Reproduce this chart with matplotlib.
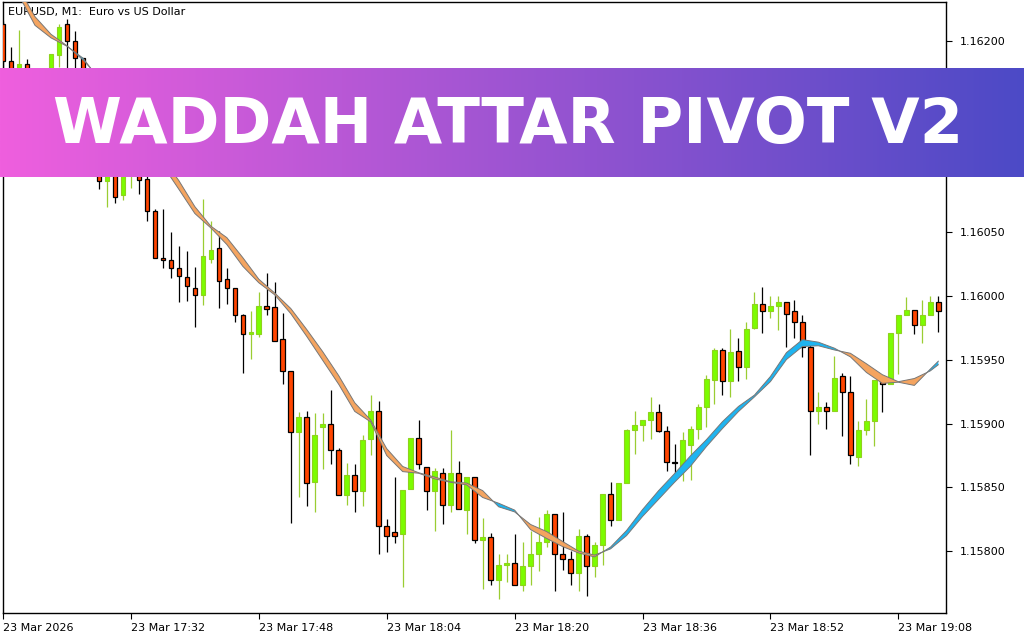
import matplotlib
matplotlib.use("Agg")
import matplotlib.pyplot as plt
import numpy as np

# EURUSD M1 candles, 17:16 .. 19:13
opens = [1.16213, 1.16184, 1.16160, 1.16182, 1.16168, 1.16151, 1.16168, 1.16189, 1.16213, 1.16200,
         1.16187, 1.16152, 1.16118, 1.16090, 1.16107, 1.16079, 1.16099, 1.16118, 1.16092, 1.16067,
         1.16030, 1.16028, 1.16022, 1.16015, 1.16006, 1.16001, 1.16029, 1.16038, 1.16013, 1.16006,
         1.15985, 1.15970, 1.15970, 1.15992, 1.15991, 1.15966, 1.15941, 1.15893, 1.15905, 1.15854,
         1.15897, 1.15900, 1.15879, 1.15844, 1.15860, 1.15847, 1.15888, 1.15910, 1.15820, 1.15815,
         1.15813, 1.15849, 1.15889, 1.15866, 1.15847, 1.15861, 1.15836, 1.15861, 1.15832, 1.15858,
         1.15809, 1.15811, 1.15777, 1.15789, 1.15791, 1.15773, 1.15788, 1.15798, 1.15807, 1.15829,
         1.15798, 1.15794, 1.15783, 1.15812, 1.15788, 1.15805, 1.15845, 1.15824, 1.15853, 1.15895,
         1.15899, 1.15903, 1.15909, 1.15894, 1.15870, 1.15866, 1.15883, 1.15896, 1.15913, 1.15934,
         1.15958, 1.15933, 1.15957, 1.15944, 1.15975, 1.15994, 1.15988, 1.15992, 1.15995, 1.15988,
         1.15980, 1.15960, 1.15910, 1.15913, 1.15910, 1.15937, 1.15925, 1.15874, 1.15895, 1.15902,
         1.15934, 1.15931, 1.15971, 1.15985, 1.15989, 1.15977, 1.15985, 1.15995]
highs = [1.16216, 1.16195, 1.16209, 1.16186, 1.16173, 1.16176, 1.16190, 1.16213, 1.16217, 1.16208,
         1.16187, 1.16157, 1.16122, 1.16115, 1.16111, 1.16107, 1.16129, 1.16124, 1.16099, 1.16068,
         1.16068, 1.16050, 1.16039, 1.16035, 1.16023, 1.16076, 1.16059, 1.16051, 1.16022, 1.16006,
         1.15986, 1.15988, 1.16003, 1.16018, 1.16011, 1.15987, 1.15941, 1.15909, 1.15910, 1.15908,
         1.15908, 1.15926, 1.15881, 1.15869, 1.15868, 1.15891, 1.15922, 1.15918, 1.15825, 1.15858,
         1.15848, 1.15889, 1.15903, 1.15866, 1.15865, 1.15865, 1.15895, 1.15871, 1.15858, 1.15858,
         1.15826, 1.15814, 1.15798, 1.15798, 1.15813, 1.15807, 1.15816, 1.15827, 1.15832, 1.15829,
         1.15831, 1.15800, 1.15817, 1.15813, 1.15807, 1.15845, 1.15854, 1.15853, 1.15896, 1.15910,
         1.15903, 1.15921, 1.15915, 1.15898, 1.15884, 1.15893, 1.15898, 1.15915, 1.15938, 1.15959,
         1.15959, 1.15974, 1.15967, 1.15980, 1.16003, 1.16007, 1.16000, 1.16000, 1.15995, 1.15997,
         1.15985, 1.15962, 1.15925, 1.15917, 1.15953, 1.15940, 1.15937, 1.15902, 1.15919, 1.15934,
         1.15938, 1.15971, 1.15985, 1.15999, 1.15989, 1.15997, 1.16000, 1.16000]
lows = [1.16177, 1.16157, 1.16154, 1.16160, 1.16149, 1.16146, 1.16162, 1.16180, 1.16173, 1.16168,
        1.16146, 1.16122, 1.16084, 1.16070, 1.16073, 1.16075, 1.16085, 1.16080, 1.16059, 1.16030,
        1.16022, 1.16014, 1.15995, 1.15996, 1.15976, 1.15993, 1.16026, 1.15991, 1.15994, 1.15980,
        1.15940, 1.15951, 1.15968, 1.15985, 1.15965, 1.15931, 1.15822, 1.15842, 1.15835, 1.15831,
        1.15864, 1.15868, 1.15844, 1.15836, 1.15831, 1.15835, 1.15875, 1.15798, 1.15799, 1.15806,
        1.15772, 1.15849, 1.15864, 1.15832, 1.15816, 1.15821, 1.15831, 1.15833, 1.15813, 1.15806,
        1.15770, 1.15773, 1.15762, 1.15776, 1.15773, 1.15769, 1.15773, 1.15784, 1.15803, 1.15769,
        1.15785, 1.15773, 1.15769, 1.15765, 1.15780, 1.15789, 1.15820, 1.15824, 1.15853, 1.15876,
        1.15886, 1.15888, 1.15893, 1.15863, 1.15857, 1.15855, 1.15856, 1.15888, 1.15897, 1.15915,
        1.15922, 1.15921, 1.15933, 1.15935, 1.15974, 1.15971, 1.15983, 1.15973, 1.15960, 1.15967,
        1.15952, 1.15875, 1.15900, 1.15896, 1.15910, 1.15890, 1.15868, 1.15867, 1.15891, 1.15882,
        1.15909, 1.15931, 1.15939, 1.15985, 1.15970, 1.15963, 1.15985, 1.15972]
closes = [1.16184, 1.16163, 1.16182, 1.16168, 1.16157, 1.16171, 1.16190, 1.16211, 1.16200, 1.16187,
          1.16152, 1.16132, 1.16090, 1.16107, 1.16078, 1.16100, 1.16121, 1.16091, 1.16067, 1.16030,
          1.16028, 1.16022, 1.16016, 1.16008, 1.16001, 1.16031, 1.16036, 1.16012, 1.16006, 1.15985,
          1.15970, 1.15972, 1.15992, 1.15990, 1.15965, 1.15941, 1.15893, 1.15905, 1.15853, 1.15891,
          1.15900, 1.15879, 1.15844, 1.15860, 1.15847, 1.15887, 1.15910, 1.15820, 1.15812, 1.15812,
          1.15848, 1.15889, 1.15868, 1.15847, 1.15863, 1.15836, 1.15861, 1.15833, 1.15858, 1.15809,
          1.15811, 1.15777, 1.15789, 1.15791, 1.15773, 1.15788, 1.15798, 1.15807, 1.15829, 1.15798,
          1.15794, 1.15783, 1.15812, 1.15788, 1.15805, 1.15845, 1.15824, 1.15853, 1.15895, 1.15899,
          1.15903, 1.15909, 1.15894, 1.15870, 1.15869, 1.15887, 1.15896, 1.15913, 1.15935, 1.15958,
          1.15933, 1.15956, 1.15944, 1.15974, 1.15994, 1.15988, 1.15992, 1.15995, 1.15986, 1.15980,
          1.15960, 1.15910, 1.15913, 1.15910, 1.15936, 1.15925, 1.15875, 1.15895, 1.15902, 1.15934,
          1.15931, 1.15971, 1.15985, 1.15989, 1.15977, 1.15985, 1.15995, 1.15988]

# two indicator lines (read every second bar)
ma_idx = list(range(2, 117, 2)) + [117]
ma_fast = [1.162357, 1.162123, 1.162025, 1.161959, 1.161866, 1.161703, 1.161525, 1.161353, 1.161189, 1.161024,
           1.160837, 1.160647, 1.160534, 1.160404, 1.160233, 1.160104, 1.160009, 1.159862, 1.159683, 1.159495,
           1.159307, 1.159095, 1.159013, 1.158749, 1.158623, 1.158610, 1.158566, 1.158539, 1.158519, 1.158420,
           1.158375, 1.158321, 1.158168, 1.158099, 1.158035, 1.157985, 1.157954, 1.158031, 1.158161, 1.158325,
           1.158473, 1.158607, 1.158747, 1.158874, 1.159015, 1.159134, 1.159223, 1.159369, 1.159556, 1.159658,
           1.159638, 1.159591, 1.159523, 1.159401, 1.159315, 1.159324, 1.159299, 1.159427, 1.159489]
ma_slow = [1.162411, 1.162191, 1.162053, 1.161963, 1.161852, 1.161717, 1.161565, 1.161407, 1.161243, 1.161078,
           1.160905, 1.160701, 1.160548, 1.160458, 1.160301, 1.160132, 1.160023, 1.159902, 1.159737, 1.159563,
           1.159375, 1.159163, 1.159027, 1.158803, 1.158663, 1.158614, 1.158580, 1.158543, 1.158533, 1.158474,
           1.158347, 1.158307, 1.158208, 1.158153, 1.158075, 1.157999, 1.157968, 1.158017, 1.158121, 1.158271,
           1.158405, 1.158539, 1.158665, 1.158820, 1.158961, 1.159094, 1.159209, 1.159329, 1.159502, 1.159604,
           1.159610, 1.159577, 1.159551, 1.159469, 1.159383, 1.159328, 1.159353, 1.159413, 1.159461]

x_ticks = [0, 16, 32, 48, 64, 80, 96, 112]
x_labels = ['23 Mar 2026', '23 Mar 17:32', '23 Mar 17:48', '23 Mar 18:04',
            '23 Mar 18:20', '23 Mar 18:36', '23 Mar 18:52', '23 Mar 19:08']
y_ticks = [1.15800, 1.15850, 1.15900, 1.15950, 1.16000, 1.16050, 1.16100, 1.16150, 1.16200]

banner_text = 'WADDAH ATTAR PIVOT V2'
chart_title = 'EURUSD, M1:  Euro vs US Dollar'

fig = plt.figure(figsize=(10.24, 6.4), dpi=100)
ax = fig.add_axes([3 / 1024, 1 - 613 / 640, 943 / 1024, 611 / 640])

idx = np.arange(len(opens))
o = np.array(opens)
c = np.array(closes)
up = c >= o
up[84] = False  # doji drawn as bear bar

# wicks
ax.vlines(idx[up], np.array(lows)[up], np.array(highs)[up], colors='#9ACD32', lw=0.9, zorder=2)
ax.vlines(idx[~up], np.array(lows)[~up], np.array(highs)[~up], colors='black', lw=0.9, zorder=2)

# bodies
body_lo = np.minimum(o, c)
body_h = np.abs(c - o)
ax.bar(idx[up], body_h[up], bottom=body_lo[up], width=0.58, color='#7CFC00',
       edgecolor='#8FD21E', linewidth=0.8, zorder=3)
ax.bar(idx[~up], body_h[~up], bottom=body_lo[~up], width=0.58, color='#FF4500',
       edgecolor='black', linewidth=0.9, zorder=3)

# indicator band
mx = np.array(ma_idx)
mf = np.array(ma_fast)
ms = np.array(ma_slow)
ax.fill_between(mx, mf, ms, where=mf <= ms, interpolate=True, color='#F4A460', lw=0, zorder=4)
ax.fill_between(mx, mf, ms, where=mf > ms, interpolate=True, color='#1EB4F0', lw=0, zorder=4)
ax.plot(mx, mf, color='#777777', lw=0.7, zorder=5)
ax.plot(mx, ms, color='#777777', lw=0.7, zorder=5)

ax.set_xlim(0.09, 117.96)
ax.set_ylim(1.157514, 1.162306)

ax.yaxis.tick_right()
ax.set_yticks(y_ticks)
ax.set_yticklabels([f'{v:.5f}' for v in y_ticks])
ax.set_xticks(x_ticks)
ax.set_xticklabels(x_labels, ha='left')
ax.tick_params(axis='y', direction='out', length=4, width=0.8, pad=6, labelsize=8)
ax.tick_params(axis='x', direction='out', length=4, width=0.8, pad=3, labelsize=8)
for s in ax.spines.values():
    s.set_linewidth(1.0)
    s.set_color('black')

ax.text(0.005, 0.992, chart_title, transform=ax.transAxes, fontsize=8,
        ha='left', va='top', color='black')

# banner on top
bax = fig.add_axes([0, 1 - 177 / 640, 1, 109 / 640])
left_col = np.array([239, 95, 222]) / 255
right_col = np.array([76, 74, 198]) / 255
t = np.linspace(0, 1, 512)[None, :, None]
grad = left_col * (1 - t) + right_col * t
bax.imshow(grad, aspect='auto', extent=[0, 1, 0, 1], interpolation='bilinear')
bax.set_axis_off()
fig.text(508 / 1024, 1 - 143 / 640, banner_text, color='white', fontsize=45,
         fontweight='bold', ha='center', va='baseline', family='DejaVu Sans')

fig.savefig('out.png', dpi=100)
